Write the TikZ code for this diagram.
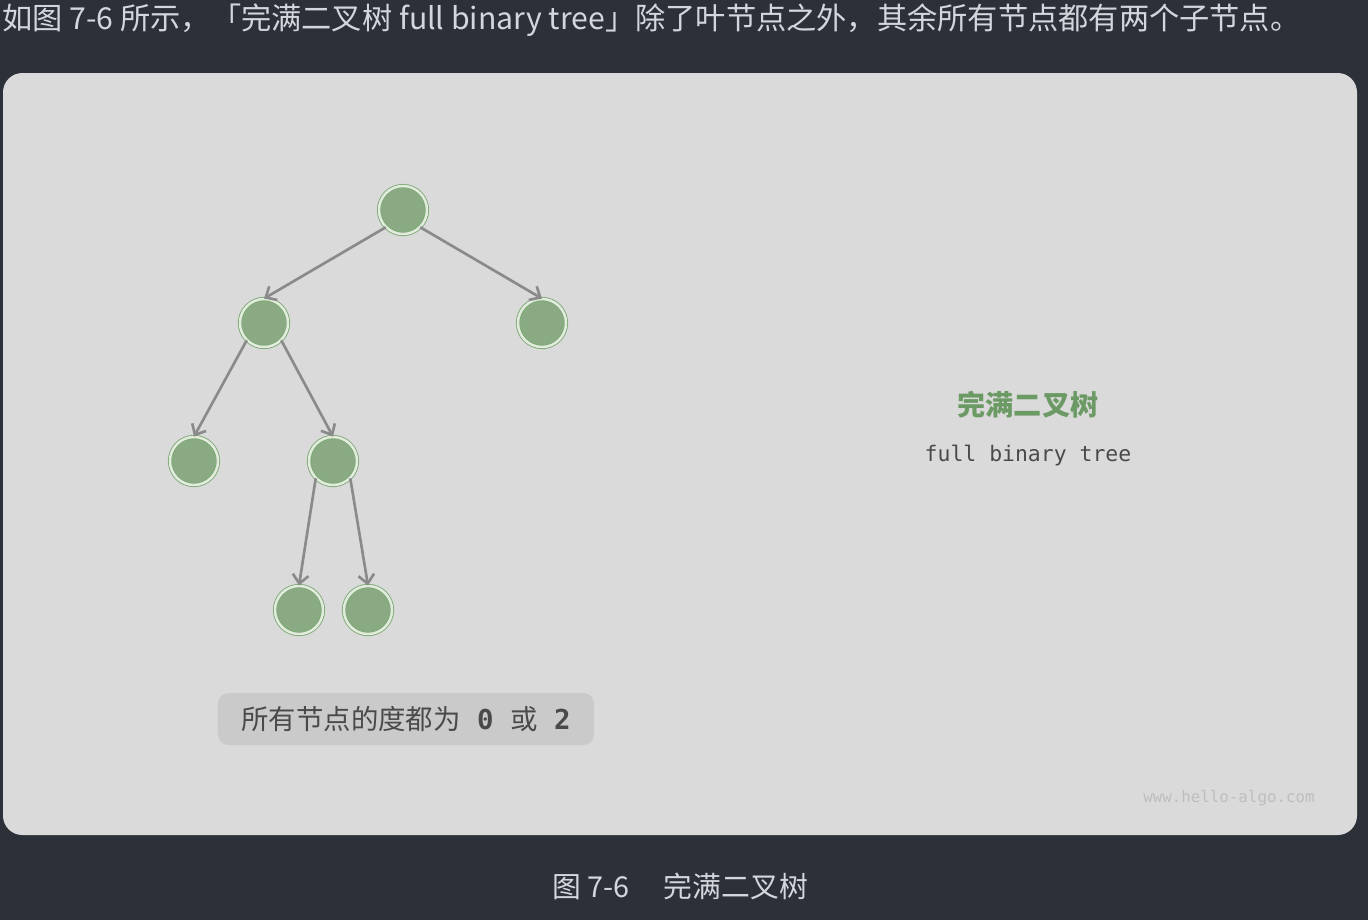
\documentclass[tikz,border=0pt]{standalone}
\usepackage{fontspec}
\setmainfont{Noto Sans CJK SC}
\setmonofont{DejaVu Sans Mono}
\usetikzlibrary{arrows.meta}

\definecolor{pagebg}{HTML}{2C3038}
\definecolor{pagetext}{HTML}{D3D7DD}
\definecolor{panelbg}{HTML}{DADADA}
\definecolor{nodefill}{HTML}{8AAA83}
\definecolor{noderim}{HTML}{7DAA74}
\definecolor{nodering}{HTML}{E2EBDD}
\definecolor{edgegray}{HTML}{8A8A8A}
\definecolor{notebg}{HTML}{CACACA}
\definecolor{notetext}{HTML}{4A4A4A}
\definecolor{titlegreen}{HTML}{6C9A65}
\definecolor{marktext}{HTML}{BEBEBE}

\begin{document}
\begin{tikzpicture}[x=0.2mm, y=-0.2mm]
    % Define styles
    \tikzstyle{treenode} = [circle, minimum size=9.6mm, inner sep=0pt, fill=nodefill, draw=noderim, line width=0.5pt, double=nodering, double distance=1.4pt]
    \tikzstyle{edge} = [draw=edgegray, line width=1.5pt, -{Straight Barb[length=5pt, width=9pt]}]
    \tikzstyle{notebox} = [rectangle, rounded corners=6pt, minimum width=75.2mm, minimum height=10.4mm, fill=notebg, text=notetext, font=\fontsize{15.6}{18}\selectfont]

    % Page and panel
    \fill [pagebg] (0,0) rectangle (1368,920);
    \fill [panelbg, rounded corners=11pt] (3,73) rectangle (1357,835);

    % Texts around the panel
    \node [anchor=west, inner sep=0pt, text=pagetext, font=\fontsize{17.2}{20}\selectfont] (intro) at (2,20)
        {如图 7-6 所示，「完满二叉树 full binary tree」除了叶节点之外，其余所有节点都有两个子节点。};
    \node [inner sep=0pt, text=pagetext, font=\fontsize{16.4}{20}\selectfont] (caption) at (680,886)
        {图 7-6\hspace{1.2em}完满二叉树};

    % Nodes
    \node [treenode] (root) at (403,210) {};
    \node [treenode] (left) at (264,323) {};
    \node [treenode] (right) at (542,323) {};
    \node [treenode] (leftleft) at (194,461) {};
    \node [treenode] (leftright) at (333,461) {};
    \node [treenode] (deepleft) at (299,610) {};
    \node [treenode] (deepright) at (368,610) {};

    % Arrows
    \draw [edge] (root.south west) -- (left.north);
    \draw [edge] (root.south east) -- (right.north);
    \draw [edge] (left.south west) -- (leftleft.north);
    \draw [edge] (left.south east) -- (leftright.north);
    \draw [edge] (leftright.south west) -- (deepleft.north);
    \draw [edge] (leftright.south east) -- (deepright.north);

    % Labels
    \node [notebox] (degree) at (406,719) {所有节点的度都为\hspace{0.6em}\texttt{\textbf{0}}\hspace{0.6em}或\hspace{0.6em}\texttt{\textbf{2}}};
    \node [text=titlegreen, font=\fontsize{16}{19}\selectfont\bfseries] (title) at (1028,405) {完满二叉树};
    \node [text=notetext, font=\fontsize{12.2}{14}\ttfamily] (subtitle) at (1028,456) {full binary tree};
    \node [anchor=east, inner sep=0pt, text=marktext, font=\fontsize{9}{11}\ttfamily] (mark) at (1315,798) {www.hello-algo.com};
\end{tikzpicture}
\end{document}
